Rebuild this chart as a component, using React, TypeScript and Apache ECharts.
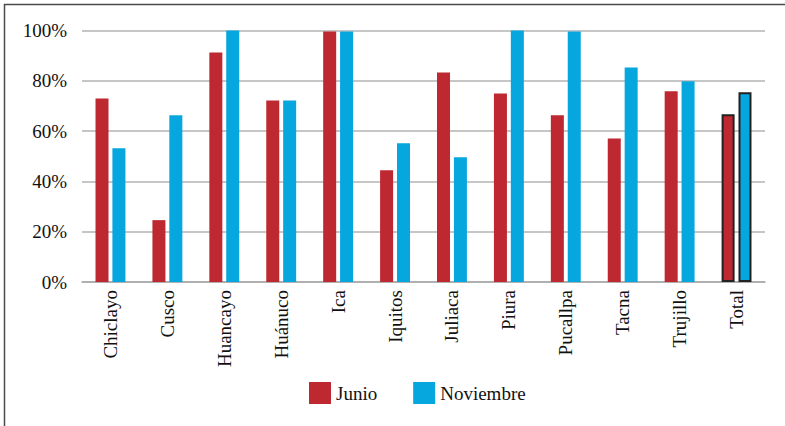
import React, { useEffect, useRef } from "react";
import * as echarts from "echarts";

const categories = ["Chiclayo", "Cusco", "Huancayo", "Huánuco", "Ica", "Iquitos", "Juliaca", "Piura", "Pucallpa", "Tacna", "Trujillo", "Total"];
const junio = [73, 24.6, 91.3, 72.2, 99.6, 44.4, 83.3, 75, 66.3, 57.1, 75.8, 66.7];
const noviembre = [53.2, 66.3, 100, 72.2, 99.6, 55.2, 49.6, 100, 99.6, 85.3, 79.8, 75.4];
const yTicks = [0, 20, 40, 60, 80, 100];

const RED = "#BE2830";
const BLUE = "#06A6DE";
const FONT = "serif";

function mark(values: number[], color: string) {
  return values.map((v, i) =>
    categories[i] === "Total"
      ? { value: v, itemStyle: { color, borderColor: "#222", borderWidth: 2 } }
      : { value: v, itemStyle: { color } }
  );
}

export default function App() {
  const ref = useRef<HTMLDivElement>(null);
  useEffect(() => {
    if (!ref.current) return;
    const chart = echarts.init(ref.current, null, { renderer: "svg" });
    chart.setOption({
      animation: false,
      backgroundColor: "#fff",
      textStyle: { fontFamily: FONT },
      graphic: [
        {
          type: "rect",
          shape: { x: 4.5, y: 4.5, width: 900, height: 600 },
          style: { fill: "none", stroke: "#4a4a4a", lineWidth: 1.5 },
          silent: true,
        },
      ],
      grid: { left: 82, right: 20, top: 30.5, bottom: 144 },
      legend: {
        left: 309,
        top: 382,
        padding: 0,
        itemWidth: 22,
        itemHeight: 22,
        itemGap: 36,
        icon: "rect",
        textStyle: { fontFamily: FONT, fontSize: 19, color: "#111" },
        data: ["Junio", "Noviembre"],
      },
      xAxis: {
        type: "category",
        data: categories,
        axisLine: { show: true, lineStyle: { color: "#a8a8a8", width: 1.5 } },
        axisTick: { show: false },
        axisLabel: {
          rotate: 90,
          margin: 8,
          interval: 0,
          fontFamily: FONT,
          fontSize: 19,
          color: "#111",
        },
      },
      yAxis: {
        type: "value",
        min: 0,
        max: 100,
        interval: 20,
        axisLine: { show: false },
        axisTick: { show: false },
        splitLine: { lineStyle: { color: "#b3b3b3", width: 1.5 } },
        axisLabel: {
          formatter: (v: number) => (yTicks.includes(v) ? v + "%" : ""),
          margin: 15,
          fontFamily: FONT,
          fontSize: 19,
          color: "#111",
        },
      },
      series: [
        {
          name: "Junio",
          type: "bar",
          data: mark(junio, RED),
          itemStyle: { color: RED },
          barWidth: 13,
          barGap: "30%",
        },
        {
          name: "Noviembre",
          type: "bar",
          data: mark(noviembre, BLUE),
          itemStyle: { color: BLUE },
          barWidth: 13,
          barGap: "30%",
        },
      ],
    });
    return () => chart.dispose();
  }, []);
  return (
    <div
      ref={ref}
      style={{ position: "fixed", left: 0, top: 0, width: 785, height: 426 }}
    />
  );
}
